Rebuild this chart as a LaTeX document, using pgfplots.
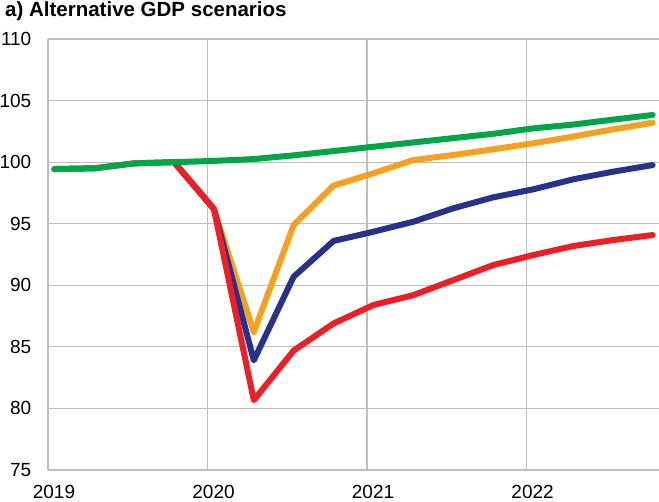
\documentclass[border=0pt]{standalone}
\usepackage{fontspec}
\setmainfont{Liberation Sans}
\usepackage{pgfplots}
\pgfplotsset{compat=1.18}
\definecolor{cgreen}{RGB}{0,165,72}
\definecolor{corange}{RGB}{246,160,32}
\definecolor{cblue}{RGB}{40,50,140}
\definecolor{cred}{RGB}{236,30,38}
\definecolor{cgrid}{RGB}{190,190,190}
\begin{document}
\begin{tikzpicture}
\begin{axis}[
  name=ax,
  scale only axis,
  width=611bp, height=431bp,
  xmin=2019, xmax=2022.83,
  ymin=75, ymax=110,
  xtick={2019,2020,2021,2022},
  ytick={75,80,...,110},
  grid=major,
  major grid style={cgrid, line width=1.2bp},
  axis x line*=bottom, axis y line*=left,
  axis line style={cgrid, line width=1.2bp, -},
  major tick length=0pt,
  /pgf/number format/assume math mode=true,
  /pgf/number format/1000 sep={},
  ticklabel style={font=\fontsize{19bp}{21bp}\selectfont, inner sep=0pt},
  xticklabel style={anchor=base, yshift=-28bp, xshift=6bp},
  yticklabel style={anchor=east, xshift=-16.5bp},
  clip=false,
]
\addplot[corange, line width=6bp, line cap=round, line join=round] coordinates {
(2019.79,100.0) (2020.04,96.2) (2020.29,86.2) (2020.54,94.9) (2020.79,98.1)
(2021.04,99.1) (2021.29,100.17) (2021.54,100.58) (2021.79,101.04)
(2022.04,101.53) (2022.29,102.07) (2022.54,102.66) (2022.79,103.2)};
\addplot[cblue, line width=6bp, line cap=round, line join=round] coordinates {
(2019.79,100.0) (2020.04,96.2) (2020.29,83.9) (2020.54,90.7) (2020.79,93.6)
(2021.04,94.35) (2021.29,95.16) (2021.54,96.25) (2021.79,97.14)
(2022.04,97.79) (2022.29,98.6) (2022.54,99.22) (2022.79,99.76)};
\addplot[cred, line width=6bp, line cap=round, line join=round] coordinates {
(2019.04,99.44) (2019.29,99.5) (2019.54,99.9) (2019.79,100.0)
(2020.04,96.2) (2020.29,80.67) (2020.54,84.7) (2020.79,86.9)
(2021.04,88.4) (2021.29,89.2) (2021.54,90.42) (2021.79,91.64)
(2022.04,92.45) (2022.29,93.18) (2022.54,93.67) (2022.79,94.08)};
\addplot[cgreen, line width=6bp, line cap=round, line join=round] coordinates {
(2019.04,99.44) (2019.29,99.5) (2019.54,99.9) (2019.79,100.0)
(2020.04,100.1) (2020.29,100.25) (2020.54,100.55) (2020.79,100.9)
(2021.04,101.25) (2021.29,101.6) (2021.54,101.95) (2021.79,102.3)
(2022.04,102.74) (2022.29,103.05) (2022.54,103.45) (2022.79,103.83)};
\end{axis}
\node[anchor=base west, inner sep=0pt, font=\bfseries\fontsize{20.5bp}{22bp}\selectfont]
  at ([shift={(-43bp,22bp)}]ax.north west) {a) Alternative GDP scenarios};
\pgfresetboundingbox
\path[use as bounding box] ([shift={(-48bp,-32bp)}]ax.south west) rectangle ++(659bp,502bp);
\end{tikzpicture}
\end{document}
